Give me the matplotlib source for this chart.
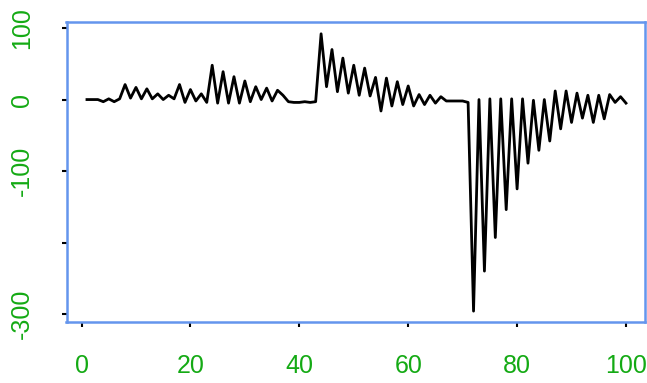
import matplotlib
matplotlib.use("Agg")
import matplotlib.pyplot as plt
import numpy as np

plt.rcParams['font.family'] = ['Liberation Sans', 'DejaVu Sans']

x_values = list(range(1, 101))
y_values = [
    0, 0, 0, -3, 1, -3, 1, 21, 2, 17,
    1, 15, 1, 8, 0, 6, 1, 21, -4, 14,
    -2, 8, -4, 48, -5, 39, -5, 32, -5, 26,
    -3, 18, 0, 16, -2, 13, 6, -3, -4, -4,
    -3, -4, -3, 92, 18, 70, 11, 58, 9, 48,
    6, 44, 5, 31, -16, 30, -9, 25, -7, 19,
    -9, 7, -7, 6, -5, 4, -2, -2, -2, -2,
    -4, -296, 0, -240, 1, -193, 1, -154, 1, -125,
    1, -89, -1, -71, 0, -58, 12, -41, 12, -32,
    9, -26, 6, -32, 6, -27, 7, -4, 4, -5,
]
x_ticks = [0, 20, 40, 60, 80, 100]
x_tick_labels = ['0', '20', '40', '60', '80', '100']
y_ticks = [100, 0, -100, -200, -300]
y_tick_labels = ['100', '0', '-100', '', '-300']

green = '#14AA14'
blue = '#6495ED'

fig = plt.figure(figsize=(6.47, 3.83), dpi=100)
ax = fig.add_axes([66.5 / 647, 1 - 321.5 / 383, 578 / 647, 299.5 / 383])

ax.plot(x_values, y_values, color='black', linewidth=2.0, solid_joinstyle='round')

ax.set_xlim(-2.76, 103.4)
ax.set_ylim(-310.5, 108.5)

ax.set_xticks(x_ticks)
ax.set_xticklabels(x_tick_labels)
ax.set_yticks(y_ticks)
ax.set_yticklabels(y_tick_labels, rotation=90, va='center')

for s in ax.spines.values():
    s.set_color(blue)
    s.set_linewidth(1.8)

ax.tick_params(axis='both', color='black', length=3.6, width=1.5,
               direction='out', labelcolor=green, labelsize=18)
ax.tick_params(axis='x', pad=20)
ax.tick_params(axis='y', pad=20)

fig.savefig('out.png', dpi=100)
